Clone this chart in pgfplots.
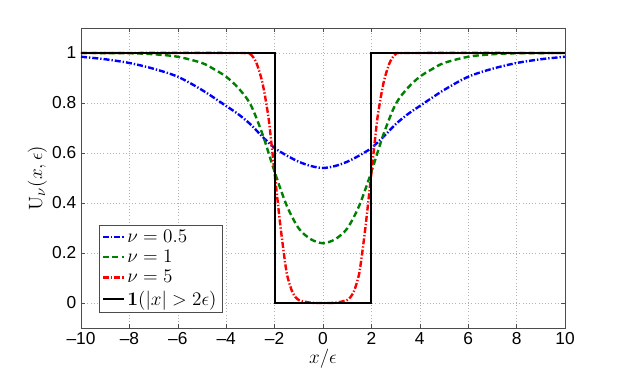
\documentclass[border=0pt]{standalone}
\usepackage{pgfplots}
\pgfplotsset{compat=1.18}
\usepackage[no-math]{fontspec}
\setmainfont{Liberation Sans}
\begin{document}
\begin{tikzpicture}
\begin{axis}[
  scale only axis, width=363pt, height=225pt,
  xmin=-10, xmax=10, ymin=-0.1, ymax=1.1,
  xtick={-10,-8,...,10},
  xticklabels={\textendash10,\textendash8,\textendash6,\textendash4,\textendash2,0,2,4,6,8,10},
  ytick={0,0.2,...,1},
  yticklabels={0,0.2,0.4,0.6,0.8,1},
  tick align=inside, major tick length=3pt,
  tick style={gray!60!black, line width=0.4pt},
  axis line style={gray!60!black},
  grid=major, grid style={dotted, gray!60},
  ticklabel style={font=\fontsize{13}{14}\selectfont},
  xlabel={$x/\epsilon$}, ylabel={$\mathrm{U}_\nu(x,\epsilon)$},
  label style={font=\fontsize{14}{15}\selectfont},
  xlabel style={yshift=4pt}, ylabel style={yshift=-3pt, font=\fontsize{15.5}{16}\selectfont},
  legend style={at={(0.037,0.053)}, anchor=south west, draw=gray!60!black,
    font=\fontsize{15}{16}\selectfont, inner xsep=2pt, inner ysep=1.5pt,
    row sep=0.5pt},
  legend cell align=left,
  legend image post style={xscale=0.9},
]
\addplot[blue, line width=1.8pt, dash pattern=on 4.5pt off 1.5pt on 1pt off 1.5pt, smooth] coordinates {
(-10,0.985) (-9,0.975) (-8,0.96) (-7,0.937) (-6,0.905) (-5,0.852) (-4,0.788) (-3.5,0.755)
(-3,0.715) (-2.5,0.665) (-2,0.62) (-1.5,0.59) (-1,0.565) (-0.5,0.548) (0,0.54)
(0.5,0.548) (1,0.565) (1.5,0.59) (2,0.62) (2.5,0.665) (3,0.715) (3.5,0.755) (4,0.788)
(5,0.852) (6,0.905) (7,0.937) (8,0.96) (9,0.975) (10,0.985)};
\addlegendentry{$\nu=0.5$}
\addplot[green!50!black, line width=1.8pt, dash pattern=on 4.5pt off 2.5pt, smooth] coordinates {
(-10,1) (-8,0.999) (-7,0.995) (-6,0.985) (-5,0.96) (-4.5,0.935) (-4,0.905) (-3.5,0.86)
(-3,0.795) (-2.5,0.675) (-2,0.525) (-1.5,0.39) (-1,0.298) (-0.5,0.255) (0,0.239)
(0.5,0.255) (1,0.298) (1.5,0.39) (2,0.525) (2.5,0.675) (3,0.795) (3.5,0.86) (4,0.905)
(4.5,0.935) (5,0.96) (6,0.985) (7,0.995) (8,0.999) (10,1)};
\addlegendentry{$\nu=1$}
\addplot[red, line width=1.8pt, dash pattern=on 4.5pt off 1.5pt on 1pt off 1.5pt, smooth, tension=0.4] coordinates {
(-10,1) (-3.5,1) (-3,0.995) (-2.75,0.96) (-2.5,0.88) (-2.25,0.74) (-2,0.52) (-1.75,0.3)
(-1.5,0.12) (-1.25,0.04) (-1,0.012) (-0.5,0.001) (0,0)
(0.5,0.001) (1,0.012) (1.25,0.04) (1.5,0.12) (1.75,0.3) (2,0.52) (2.25,0.74)
(2.5,0.88) (2.75,0.96) (3,0.995) (3.5,1) (10,1)};
\addlegendentry{$\nu=5$}
\addplot[black, line width=1.5pt] coordinates {
(-10,1) (-2,1) (-2,0) (2,0) (2,1) (10,1)};
\addlegendentry{$\mathbf{1}(|x|>2\epsilon)$}
\end{axis}
\path[use as bounding box] (-60.75pt,-31.5pt) rectangle (406.5pt,246pt);
\end{tikzpicture}
\end{document}
